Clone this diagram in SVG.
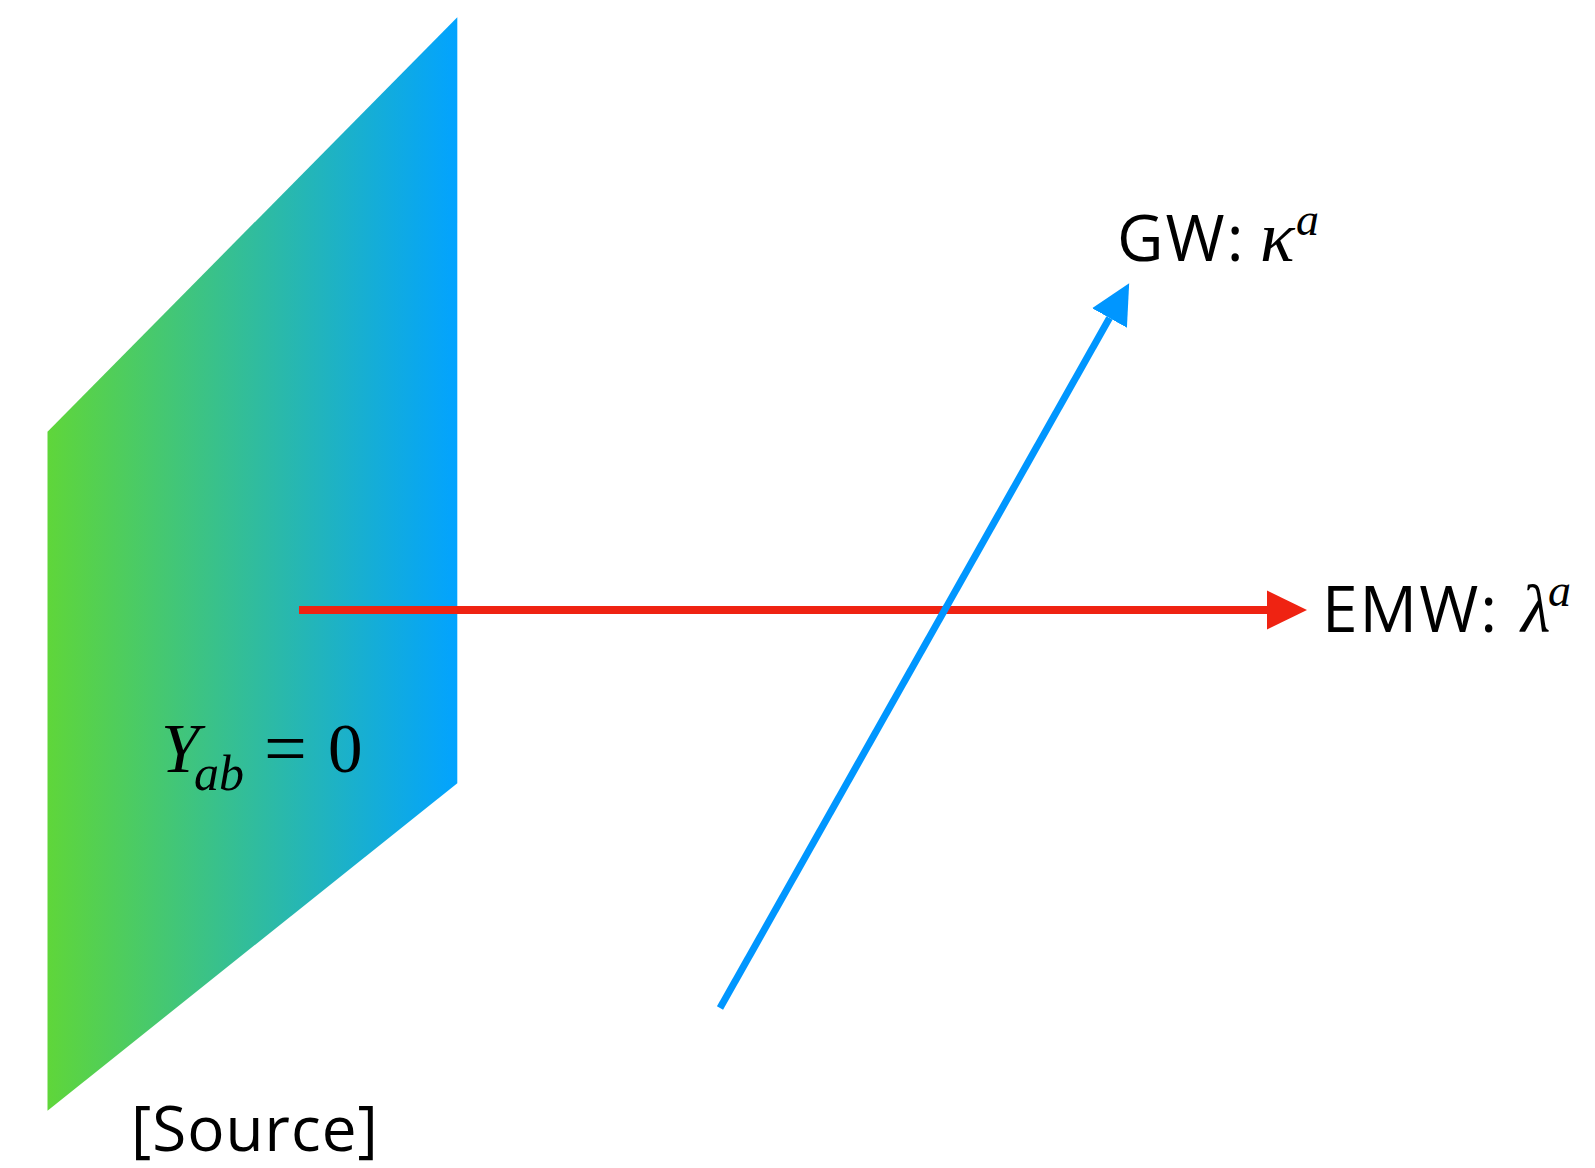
<svg xmlns="http://www.w3.org/2000/svg" width="1595" height="1168" viewBox="0 0 1595 1168">
<style>
.sans{font-family:"Open Sans","Lato","Liberation Sans",sans-serif;font-size:64px;fill:#000;letter-spacing:2px}
.src{font-size:62px;letter-spacing:1px}
.math{font-family:"Liberation Serif","Times New Roman",serif;fill:#000}
.it{font-style:italic}
</style>
<defs>
<linearGradient id="grad" x1="47.5" y1="0" x2="457.3" y2="0" gradientUnits="userSpaceOnUse">
<stop offset="0" stop-color="#5FD63A"/>
<stop offset="1" stop-color="#02A3FF"/>
</linearGradient>
<marker id="redHead" markerUnits="userSpaceOnUse" markerWidth="40" markerHeight="40" viewBox="0 0 35 34" refX="0" refY="17" orient="auto">
<path d="M0,0 L35,17 L0,34 Z" fill="#EF2312"/>
</marker>
<marker id="blueHead" markerUnits="userSpaceOnUse" markerWidth="40" markerHeight="40" viewBox="0 0 34 34" refX="0" refY="17" orient="auto">
<path d="M0,0 L34,17 L0,34 Z" fill="#0096FF"/>
</marker>
</defs>
<g id="source-plane">
<polygon points="47.5,431.7 457.3,17.3 457.3,783.3 47.5,1110.7" fill="url(#grad)"/>
<text class="math it" font-size="69" x="161" y="772">Y</text>
<text class="math it" font-size="50" x="194" y="790">ab</text>
<text class="math" font-size="76" x="264" y="774">=</text>
<text class="math" font-size="69" x="328" y="772">0</text>
</g>
<g id="source-label">
<text class="sans src" x="131" y="1151">[Source]</text>
</g>
<g id="connectors">
<line x1="299" y1="610" x2="1267" y2="610" stroke="#EF2312" stroke-width="8" marker-end="url(#redHead)"/>
<line x1="720" y1="1008" x2="1109.5" y2="318" stroke="#0096FF" stroke-width="7" marker-end="url(#blueHead)"/>
</g>
<g id="gw-label">
<text class="sans" x="1117" y="261">GW:</text>
<text class="math it" font-size="72" x="1260" y="261">κ</text>
<text class="math it" font-size="46" x="1296" y="235">a</text>
</g>
<g id="emw-label">
<text class="sans" x="1322" y="632">EMW:</text>
<text class="math it" font-size="68" x="1521" y="632">λ</text>
<text class="math it" font-size="46" x="1548" y="606">a</text>
</g>
</svg>
